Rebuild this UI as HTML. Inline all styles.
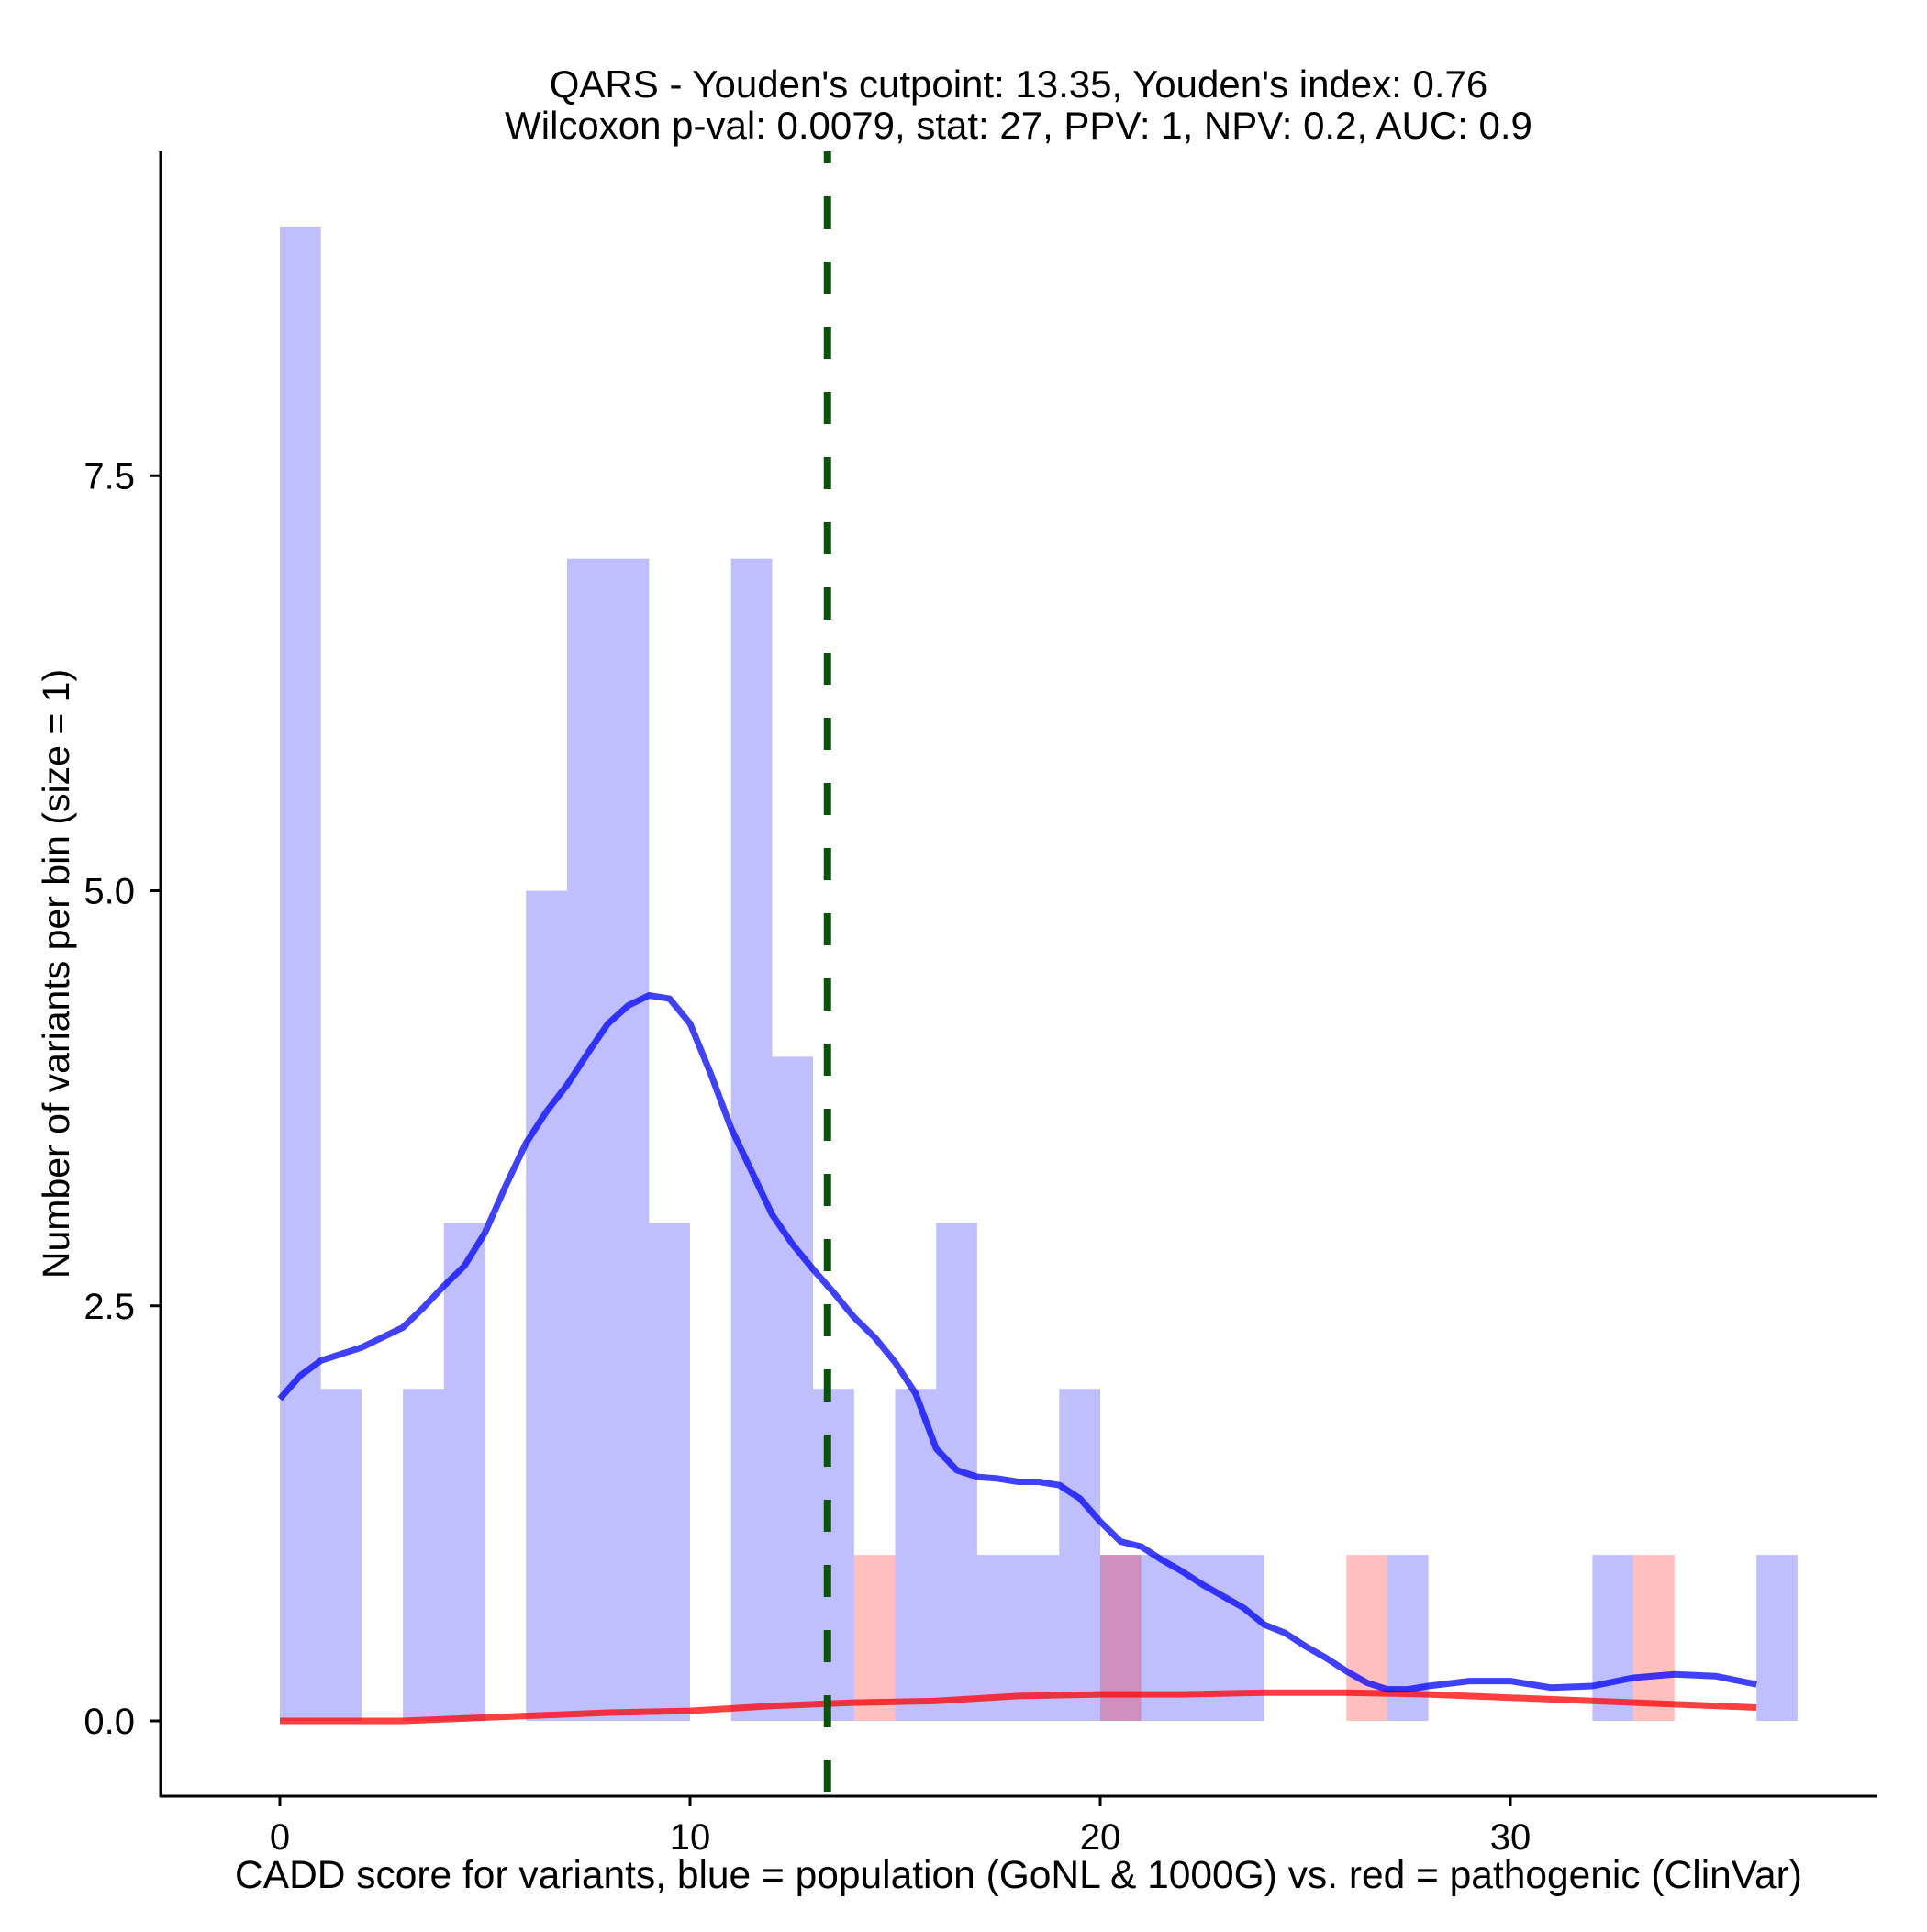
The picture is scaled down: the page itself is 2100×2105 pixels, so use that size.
<!DOCTYPE html>
<html><head><meta charset="utf-8"><style>
html,body{margin:0;padding:0;background:#fff}
text{font-family:"Liberation Sans",Arial,sans-serif;fill:#000}
</style></head><body>
<svg id="chart" width="2100" height="2100" viewBox="0 0 2100 2100">
<rect width="2100" height="2100" fill="#fff"/>
<g id="bars"></g>
<g id="curves"></g>
<line id="cut" stroke="#0b520b" stroke-width="8" stroke-dasharray="35 36" stroke-dashoffset="22"/>
<g id="axes"></g>
<text x="1110" y="106" font-size="42" text-anchor="middle">QARS - Youden's cutpoint: 13.35, Youden's index: 0.76</text>
<text x="1110" y="151" font-size="42" text-anchor="middle">Wilcoxon p-val: 0.0079, stat: 27, PPV: 1, NPV: 0.2, AUC: 0.9</text>
<text x="1110" y="2057" font-size="42.5" text-anchor="middle">CADD score for variants, blue = population (GoNL &amp; 1000G) vs. red = pathogenic (ClinVar)</text>
<text x="0" y="0" font-size="41" text-anchor="middle" transform="translate(75,1061) rotate(-90)">Number of variants per bin (size = 1)</text>
</svg>
<script>
const blueBinStarts=[0,1,3,4,6,7,8,9,11,12,13,15,16,17,18,19,20,21,22,23,27,32,36];
const blueCounts=[9,2,2,3,5,7,7,3,7,4,2,2,3,1,1,2,1,1,1,1,1,1,1];
const redBinStarts=[14,20,26,33];
const redCounts=[1,1,1,1];
const cutpoint=13.35;
const blueDensX=[0,0.5,1,1.5,2,2.5,3,3.5,4,4.5,5,5.5,6,6.5,7,7.5,8,8.5,9,9.5,10,10.5,11,11.5,12,12.5,13,13.5,14,14.5,15,15.5,16,16.5,17,17.5,18,18.5,19,19.5,20,20.5,21,21.5,22,22.5,23,23.5,24,24.5,25,25.5,26,26.5,27,27.5,28,29,30,31,32,33,34,35,36];
const blueDensY=[1.94,2.08,2.17,2.21,2.25,2.31,2.37,2.49,2.62,2.74,2.94,3.22,3.48,3.67,3.83,4.02,4.2,4.31,4.37,4.35,4.2,3.9,3.57,3.31,3.05,2.87,2.72,2.58,2.43,2.31,2.16,1.97,1.64,1.51,1.47,1.46,1.44,1.44,1.42,1.34,1.2,1.08,1.05,0.97,0.9,0.82,0.75,0.68,0.58,0.53,0.45,0.38,0.3,0.23,0.19,0.19,0.21,0.24,0.24,0.2,0.21,0.26,0.28,0.27,0.22];
const redDensX=[0,3,5,8,10,12,14,16,18,20,22,24,26,28,30,32,34,36];
const redDensY=[0,0,0.02,0.05,0.06,0.09,0.11,0.12,0.15,0.16,0.16,0.17,0.17,0.16,0.14,0.12,0.1,0.08];
const xTicks=[0,10,20,30];
const yTicks=[0,2.5,5.0,7.5];
const yTickLabels=["0.0","2.5","5.0","7.5"];

const NS="http://www.w3.org/2000/svg";
const X=v=>305+v*44.7;
const Y=v=>1875-v*180.9;
function mk(tag,attrs,parent){const e=document.createElementNS(NS,tag);for(const k in attrs)e.setAttribute(k,attrs[k]);parent.appendChild(e);return e;}
const bars=document.getElementById('bars');
blueBinStarts.forEach((s,i)=>{
  const r=mk('rect',{x:X(s),y:Y(blueCounts[i]),width:X(s+1)-X(s),height:Y(0)-Y(blueCounts[i]),fill:'rgba(0,0,255,0.25)'},bars);
  
  
});
redBinStarts.forEach((s,i)=>{
  const r=mk('rect',{x:X(s),y:Y(redCounts[i]),width:X(s+1)-X(s),height:Y(0)-Y(redCounts[i]),fill:'rgba(255,0,0,0.25)'},bars);
  
  
});
const curves=document.getElementById('curves');
function line(xs,ys,color,name){
  const d=xs.map((x,i)=>(i?'L':'M')+X(x).toFixed(1)+','+Y(ys[i]).toFixed(1)).join(' ');
  const p=mk('path',{d:d,fill:'none',stroke:color,'stroke-width':7,'stroke-linejoin':'round'},curves);
  
  
}
line(redDensX,redDensY,'rgba(255,0,0,0.75)','red-density-line');
line(blueDensX,blueDensY,'rgba(0,0,255,0.75)','blue-density-line');
const cut=document.getElementById('cut');
cut.setAttribute('x1',X(cutpoint));cut.setAttribute('x2',X(cutpoint));
cut.setAttribute('y1',165);cut.setAttribute('y2',1957);
const axes=document.getElementById('axes');
const ya=mk('line',{x1:175,y1:165,x2:175,y2:1958,stroke:'#000','stroke-width':3},axes);


const xa=mk('line',{x1:174,y1:1957,x2:2046,y2:1957,stroke:'#000','stroke-width':3},axes);


xTicks.forEach(t=>{
  const l=mk('line',{x1:X(t),y1:1957,x2:X(t),y2:1968,stroke:'#000','stroke-width':3},axes);
  
  
  const tx=mk('text',{x:X(t),y:2015,'font-size':40,'text-anchor':'middle'},axes);
  tx.textContent=String(t);
  
  
});
yTicks.forEach((t,i)=>{
  const l=mk('line',{x1:164,y1:Y(t),x2:175,y2:Y(t),stroke:'#000','stroke-width':3},axes);
  
  
  const tx=mk('text',{x:147,y:Y(t)+14,'font-size':40,'text-anchor':'end'},axes);
  tx.textContent=yTickLabels[i];
  
  
});
</script>
</body></html>
